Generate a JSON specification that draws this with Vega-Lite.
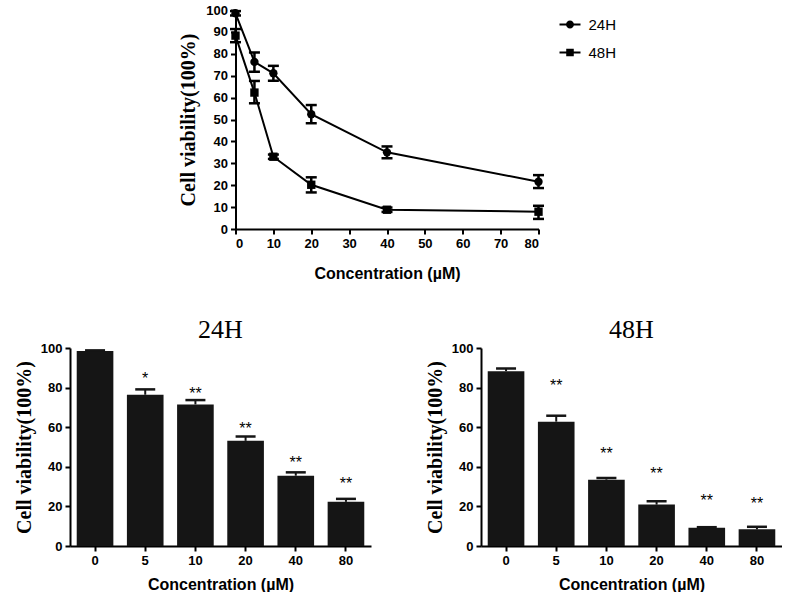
{
  "$schema": "https://vega.github.io/schema/vega-lite/v6.json",
  "background": "white",
  "padding": {"left": 14, "top": 4, "right": 0, "bottom": 0},
  "config": {
    "view": {"stroke": null},
    "axis": {"domainColor": "black", "domainWidth": 2, "tickColor": "black", "tickWidth": 2, "tickSize": 5, "labelFont": "Liberation Sans", "labelFontWeight": "bold", "labelFontSize": 13, "labelColor": "black", "labelPadding": 3, "labelOverlap": false, "labelBound": false, "titleColor": "black", "grid": false},
    "axisX": {"titleFont": "Liberation Sans", "titleFontWeight": "bold", "titleFontSize": 16, "titlePadding": 9, "labelAngle": 0},
    "axisY": {"titleFont": "Liberation Serif", "titleFontWeight": "bold", "titleFontSize": 20, "titlePadding": 6},
    "title": {"font": "Liberation Serif", "fontSize": 26, "fontWeight": "normal", "color": "black", "offset": -1}
  },
  "datasets": {
    "lines": [
      {"series": "24H", "conc": 0, "mean": 98.5, "lo": 97.5, "hi": 99.5},
      {"series": "24H", "conc": 5, "mean": 76.3, "lo": 71.8, "hi": 80.6},
      {"series": "24H", "conc": 10, "mean": 71.1, "lo": 67.7, "hi": 74.5},
      {"series": "24H", "conc": 20, "mean": 52.4, "lo": 48.3, "hi": 56.6},
      {"series": "24H", "conc": 40, "mean": 35.0, "lo": 32.3, "hi": 37.7},
      {"series": "24H", "conc": 80, "mean": 21.6, "lo": 18.7, "hi": 24.6},
      {"series": "48H", "conc": 0, "mean": 88.3, "lo": 85.3, "hi": 91.3},
      {"series": "48H", "conc": 5, "mean": 62.3, "lo": 57.4, "hi": 67.6},
      {"series": "48H", "conc": 10, "mean": 33.0, "lo": 32.0, "hi": 34.0},
      {"series": "48H", "conc": 20, "mean": 20.2, "lo": 16.7, "hi": 23.6},
      {"series": "48H", "conc": 40, "mean": 8.8, "lo": 7.8, "hi": 9.8},
      {"series": "48H", "conc": 80, "mean": 7.9, "lo": 4.6, "hi": 10.6}
    ],
    "bars": [
      {"series": "24H", "conc": 0, "mean": 98.5, "hi": 98.8, "sig": "", "star": 98.8},
      {"series": "24H", "conc": 5, "mean": 76.4, "hi": 79.1, "sig": "*", "star": 86.3},
      {"series": "24H", "conc": 10, "mean": 71.5, "hi": 73.7, "sig": "**", "star": 78.6},
      {"series": "24H", "conc": 20, "mean": 53.1, "hi": 55.3, "sig": "**", "star": 61.0},
      {"series": "24H", "conc": 40, "mean": 35.5, "hi": 37.2, "sig": "**", "star": 43.7},
      {"series": "24H", "conc": 80, "mean": 22.3, "hi": 23.8, "sig": "**", "star": 33.3},
      {"series": "48H", "conc": 0, "mean": 88.3, "hi": 89.6, "sig": "", "star": 89.6},
      {"series": "48H", "conc": 5, "mean": 62.8, "hi": 65.8, "sig": "**", "star": 82.7},
      {"series": "48H", "conc": 10, "mean": 33.5, "hi": 34.3, "sig": "**", "star": 48.7},
      {"series": "48H", "conc": 20, "mean": 20.9, "hi": 22.6, "sig": "**", "star": 38.4},
      {"series": "48H", "conc": 40, "mean": 9.2, "hi": 9.5, "sig": "**", "star": 24.5},
      {"series": "48H", "conc": 80, "mean": 8.4, "hi": 9.7, "sig": "**", "star": 23.3}
    ]
  },
  "spacing": 36,
  "center": true,
  "resolve": {"scale": {"shape": "independent"}, "legend": {"shape": "independent"}},
  "vconcat": [
    {
      "width": 303,
      "height": 219,
      "title": {"text": "I", "orient": "left", "fontSize": 32, "offset": 48, "color": "transparent"},
      "data": {"name": "lines"},
      "encoding": {
        "x": {"field": "conc", "type": "quantitative", "title": "Concentration (µM)", "scale": {"domain": [0, 80], "nice": false}, "axis": {"values": [0, 10, 20, 30, 40, 50, 60, 70, 80], "titlePadding": 15}}
      },
      "resolve": {"scale": {"shape": "independent"}, "legend": {"shape": "independent"}},
      "layer": [
        {
          "mark": {"type": "line", "color": "black", "strokeWidth": 2},
          "encoding": {
            "y": {"field": "mean", "type": "quantitative", "title": "Cell viability(100%)", "scale": {"domain": [0, 100], "nice": false}, "axis": {"values": [0, 10, 20, 30, 40, 50, 60, 70, 80, 90, 100], "titlePadding": 7}},
            "detail": {"field": "series"}
          }
        },
        {
          "mark": {"type": "errorbar", "color": "black", "opacity": 1, "thickness": 2.5, "ticks": {"size": 11}},
          "encoding": {
            "y": {"field": "lo", "type": "quantitative", "title": "Cell viability(100%)", "axis": {"values": [0, 10, 20, 30, 40, 50, 60, 70, 80, 90, 100], "titlePadding": 7}},
            "y2": {"field": "hi"},
            "detail": {"field": "series"}
          }
        },
        {
          "mark": {"type": "point", "filled": true, "opacity": 1, "color": "black", "size": 70},
          "encoding": {
            "y": {"field": "mean", "type": "quantitative", "title": "Cell viability(100%)", "axis": {"values": [0, 10, 20, 30, 40, 50, 60, 70, 80, 90, 100], "titlePadding": 7}},
            "shape": {"field": "series", "type": "nominal", "scale": {"domain": ["24H", "48H"], "range": ["circle", "square"]}, "legend": null}
          }
        },
        {
          "transform": [{"filter": "datum.conc < 0"}],
          "mark": {"type": "point", "filled": true, "opacity": 1, "color": "black"},
          "encoding": {
            "y": {"field": "mean", "type": "quantitative", "title": "Cell viability(100%)", "axis": {"values": [0, 10, 20, 30, 40, 50, 60, 70, 80, 90, 100], "titlePadding": 7}},
            "shape": {
              "field": "series", "type": "nominal",
              "scale": {"domain": ["24H", "48H"], "range": ["M-1,-0.1H1V0.1H-1ZM0.38,0A0.38,0.38 0 1,1 -0.38,0A0.38,0.38 0 1,1 0.38,0Z", "M-1,-0.1H1V0.1H-1ZM-0.36,-0.36H0.36V0.36H-0.36Z"]},
              "legend": {
                "title": null, "orient": "none", "legendX": 324, "legendY": 4, "padding": 0,
                "symbolSize": 441, "symbolStrokeWidth": 0, "symbolFillColor": "black",
                "labelFont": "Liberation Sans", "labelFontSize": 15, "labelFontWeight": "normal", "labelColor": "black",
                "labelOffset": 8, "rowPadding": 9
              }
            }
          }
        }
      ]
    },
    {
      "spacing": 54,
      "hconcat": [
        {
          "width": 301,
          "height": 198,
          "title": "24H",
          "data": {"name": "bars"},
          "transform": [{"filter": "datum.series === '24H'"}],
          "encoding": {
            "x": {"field": "conc", "type": "ordinal", "sort": "ascending", "title": "Concentration (µM)", "scale": {"paddingInner": 0.27, "paddingOuter": 0.134}}
          },
          "layer": [
            {
              "mark": {"type": "bar", "color": "#151515"},
              "encoding": {"y": {"field": "mean", "type": "quantitative", "title": "Cell viability(100%)", "scale": {"domain": [0, 100], "nice": false}, "axis": {"values": [0, 20, 40, 60, 80, 100]}}}
            },
            {
              "mark": {"type": "rule", "color": "#151515", "strokeWidth": 2},
              "encoding": {"y": {"field": "mean", "type": "quantitative", "title": "Cell viability(100%)", "axis": {"values": [0, 20, 40, 60, 80, 100]}}, "y2": {"field": "hi"}}
            },
            {
              "mark": {"type": "tick", "color": "#151515", "size": 20, "thickness": 2.5, "opacity": 1},
              "encoding": {"y": {"field": "hi", "type": "quantitative", "title": "Cell viability(100%)", "axis": {"values": [0, 20, 40, 60, 80, 100]}}}
            },
            {
              "mark": {"type": "text", "font": "Liberation Sans", "fontSize": 16, "color": "black", "baseline": "alphabetic", "dy": 9},
              "encoding": {"y": {"field": "star", "type": "quantitative", "title": "Cell viability(100%)", "axis": {"values": [0, 20, 40, 60, 80, 100]}}, "text": {"field": "sig"}}
            }
          ]
        },
        {
          "width": 301,
          "height": 198,
          "title": "48H",
          "data": {"name": "bars"},
          "transform": [{"filter": "datum.series === '48H'"}],
          "encoding": {
            "x": {"field": "conc", "type": "ordinal", "sort": "ascending", "title": "Concentration (µM)", "scale": {"paddingInner": 0.27, "paddingOuter": 0.134}}
          },
          "layer": [
            {
              "mark": {"type": "bar", "color": "#151515"},
              "encoding": {"y": {"field": "mean", "type": "quantitative", "title": "Cell viability(100%)", "scale": {"domain": [0, 100], "nice": false}, "axis": {"values": [0, 20, 40, 60, 80, 100]}}}
            },
            {
              "mark": {"type": "rule", "color": "#151515", "strokeWidth": 2},
              "encoding": {"y": {"field": "mean", "type": "quantitative", "title": "Cell viability(100%)", "axis": {"values": [0, 20, 40, 60, 80, 100]}}, "y2": {"field": "hi"}}
            },
            {
              "mark": {"type": "tick", "color": "#151515", "size": 20, "thickness": 2.5, "opacity": 1},
              "encoding": {"y": {"field": "hi", "type": "quantitative", "title": "Cell viability(100%)", "axis": {"values": [0, 20, 40, 60, 80, 100]}}}
            },
            {
              "mark": {"type": "text", "font": "Liberation Sans", "fontSize": 16, "color": "black", "baseline": "alphabetic", "dy": 9},
              "encoding": {"y": {"field": "star", "type": "quantitative", "title": "Cell viability(100%)", "axis": {"values": [0, 20, 40, 60, 80, 100]}}, "text": {"field": "sig"}}
            }
          ]
        }
      ]
    }
  ]
}
